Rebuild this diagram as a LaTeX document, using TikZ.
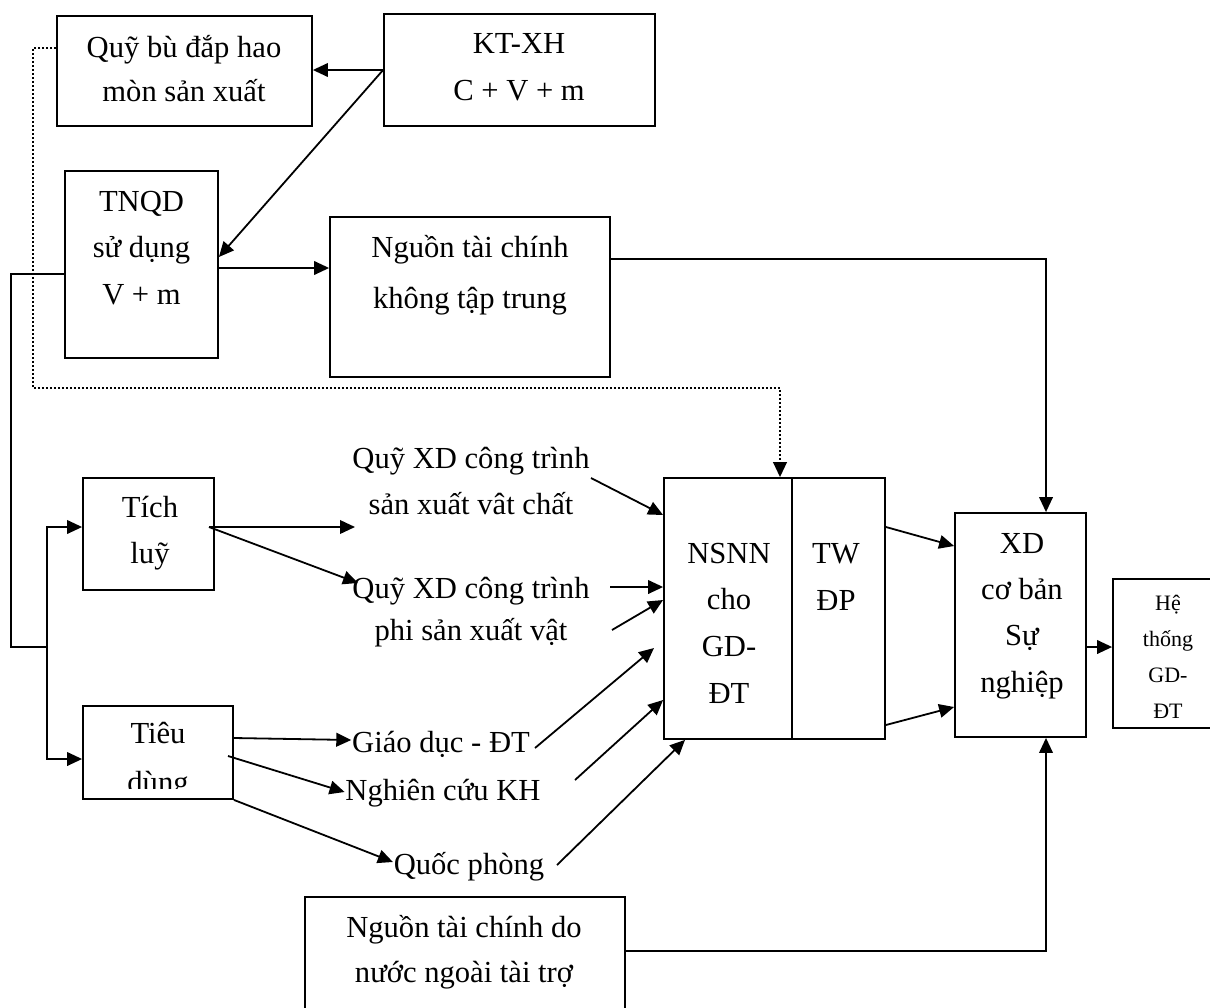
\documentclass[tikz,border=0pt]{standalone}
\usepackage{fontspec}
\setmainfont{Liberation Serif}
\usetikzlibrary{arrows.meta,fit}
\newcommand\mylines[3]{{\fontsize{#1}{#2}\selectfont\begin{tabular}[t]{@{}c@{}}#3\end{tabular}}}
\begin{document}
\begin{tikzpicture}[x=0.5pt,y=-0.5pt,line width=0.9pt,
  box/.style={draw,inner sep=0pt,line width=0.9pt},
  txt/.style={inner sep=0pt,anchor=base,font=\fontsize{15.3}{23}\selectfont},
  arr/.style={-{Triangle[length=7.5pt,width=6.8pt]}},
  dotarr/.style={arr,line width=1pt,dash pattern=on 1pt off 1pt}]
\useasboundingbox[fill=white] (0,0) rectangle (1210,1007);

% boxes
\node[box,fit={(57,16) (312,126)}] (qbu) {};
\node[box,fit={(384,14) (655,126)}] (ktxh) {};
\node[box,fit={(65,171) (218,358)}] (tnqd) {};
\node[box,fit={(330,217) (610,377)}] (nguon1) {};
\node[box,fit={(83,478) (214,590)}] (tichluy) {};
\node[box,fit={(83,706) (233,799)}] (tieudung) {};
\node[box,fit={(664,478) (885,739)}] (nsnn) {};
\node[box,fit={(955,513) (1086,737)}] (xd) {};
\node[box,fit={(1113,579) (1223,728)}] (he) {};
\node[box,fit={(305,897) (625,1025)}] (nguon2) {};
\draw (nsnn.north -| 792,0) -- (nsnn.south -| 792,0);

% texts in boxes
\node[txt] (qbuT) at (184,57) {\mylines{15.3}{22}{Quỹ bù đắp hao\\mòn sản xuất}};
\node[txt] (ktxhT) at (519,53) {\mylines{15.3}{23.5}{KT-XH\\C + V + m}};
\node[txt] (tnqdT) at (141.5,211) {\mylines{15.3}{23.25}{TNQD\\sử dụng\\V + m}};
\node[txt] (nguon1T) at (470,257) {\mylines{15.3}{25.5}{Nguồn tài chính\\không tập trung}};
\node[txt] (tichluyT) at (150,517) {\mylines{15.3}{23}{Tích\\luỹ}};
\begin{scope}
  \clip (tieudung.north west) rectangle (tieudung.east |- 0,788);
  \node[txt] (tieudungT) at (158,743) {\mylines{15.3}{24.5}{Tiêu\\dùng}};
\end{scope}
\node[txt] (nsnnT) at (729,563) {\mylines{15.3}{23.4}{NSNN\\cho\\GD-\\ĐT}};
\node[txt] (twdpT) at (836,563) {\mylines{15.3}{23.5}{TW\\ĐP}};
\node[txt] (xdT) at (1022,553) {\mylines{15.3}{23.2}{XD\\cơ bản\\Sự\\nghiệp}};
\begin{scope}
  \clip (he.north west) rectangle (1215,720);
  \node[txt] (heT) at (1168,610) {\mylines{11}{18}{Hệ\\thống\\GD-\\ĐT}};
\end{scope}
\node[txt] (nguon2T) at (464,937) {\mylines{15.3}{22.5}{Nguồn tài chính do\\nước ngoài tài trợ}};

% free labels
\node[txt] (q1) at (471,468) {\mylines{15.3}{23}{Quỹ XD công trình\\sản xuất vât chất}};
\node[txt] (q2) at (471,598) {\mylines{15.3}{21}{Quỹ XD công trình\\phi sản xuất vật}};
\node[txt] (gd) at (441,752) {Giáo dục - ĐT};
\node[txt] (nc) at (443,800) {Nghiên cứu KH};
\node[txt] (qp) at (469,874) {Quốc phòng};

% coordinates for free ends
\coordinate (tl) at (209,527);
\coordinate (q1in) at (355,527);
\coordinate (q2in) at (358,583);
\coordinate (td2) at (228,756);
\coordinate (br) at (47,647);
\coordinate (s1) at (591,478);
\coordinate (s2) at (610,587);
\coordinate (s3) at (612,630);
\coordinate (s4) at (535,748);
\coordinate (e4) at (654,648);
\coordinate (s5) at (575,780);
\coordinate (s6) at (557,865);

% connectors
\draw[arr] (ktxh.west |- 0,70) -- (qbu.east |- 0,70);
\draw[arr] (ktxh.west |- 0,70) -- (tnqd.east |- 0,257);
\draw[arr] (tnqd.east |- 0,268) -- (nguon1.west |- 0,268);
\draw[arr] (nguon1.east |- 0,259) -| (xd.north -| 1046,0);
\draw[dotarr] (qbu.west |- 0,48) -| (33,388) -| (nsnn.north -| 780,0);
\draw (tnqd.west |- 0,274) -| (11,647) -- (br);
\draw[arr] (br) |- (tichluy.west |- 0,527);
\draw[arr] (br) |- (tieudung.west |- 0,759);
\draw[arr] (tl) -- (q1in);
\draw[arr] (tl) -- (q2in);
\draw[arr] (tieudung.east |- 0,738) -- (gd.west |- 0,740);
\draw[arr] (td2) -- (nc.west |- 0,792);
\draw[arr] (tieudung.south east) -- (qp.west |- 0,862);
\draw[arr] (s1) -- (nsnn.west |- 0,515);
\draw[arr] (s2) -- (nsnn.west |- 0,587);
\draw[arr] (s3) -- (nsnn.west |- 0,600);
\draw[arr] (s4) -- (e4);
\draw[arr] (s5) -- (nsnn.west |- 0,700);
\draw[arr] (s6) -- (nsnn.south -| 685,0);
\draw[arr] (nsnn.east |- 0,527) -- (xd.west |- 0,546);
\draw[arr] (nsnn.east |- 0,725) -- (xd.west |- 0,707);
\draw[arr] (xd.east |- 0,647) -- (he.west |- 0,647);
\draw[arr] (nguon2.east |- 0,951) -| (xd.south -| 1046,0);
\end{tikzpicture}
\end{document}
